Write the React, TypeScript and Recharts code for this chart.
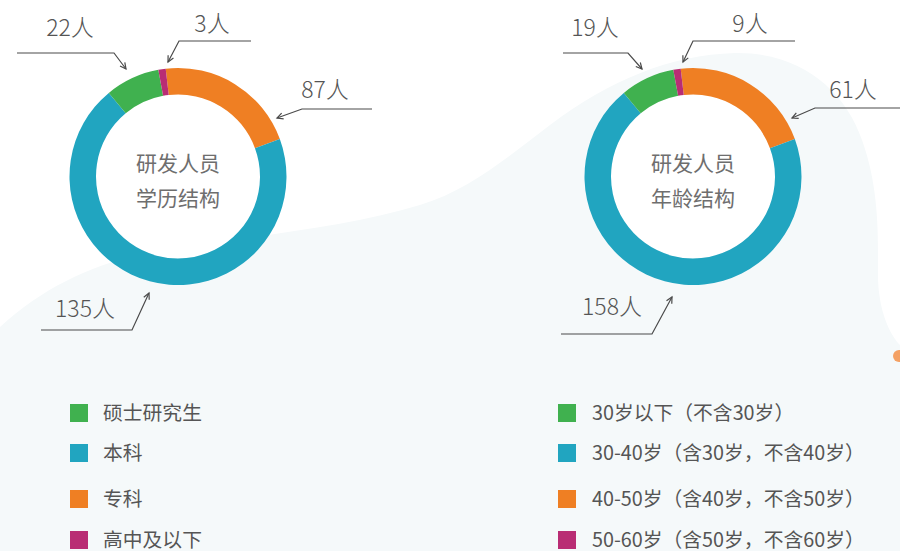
import React from 'react';
import { PieChart, Pie, Cell } from 'recharts';

// ---- data ----
const colors = ['#40b14f', '#21a5c0', '#ef7f23', '#b92d74'];

const eduNames = ['硕士研究生', '本科', '专科', '高中及以下'];
const eduCounts = [22, 135, 87, 3];
// share of the ring each category occupies in the picture (%)
const eduArcShare = [8.1, 69.6, 21.2, 1.1];
const eduTitle = ['研发人员', '学历结构'];

const ageNames = [
  '30岁以下（不含30岁）',
  '30-40岁（含30岁，不含40岁）',
  '40-50岁（含40岁，不含50岁）',
  '50-60岁（含50岁，不含60岁）',
];
const ageCounts = [19, 158, 61, 9];
const ageArcShare = [8.1, 69.6, 21.2, 1.1];
const ageTitle = ['研发人员', '年龄结构'];

// clockwise drawing order starting near the top
const drawOrder = [2, 1, 0, 3];

// ---- layout ----
const W = 900;
const H = 551;
const CY = 176.5;
const LEFT_CX = 178;
const RIGHT_CX = 693;
const INNER = 82;
const OUTER = 108.5;
const START = 96.5;
const FONT = '"Noto Sans CJK SC", "Noto Sans", sans-serif';
const TEXT = '#555555';

type Pt = [number, number];
type LabelLayout = { tip: Pt; elbow: Pt; end: Pt; text: Pt };

// leader-line layout relative to the donut centre, per category
const eduLayout: LabelLayout[] = [
  { tip: [-52, -107.5], elbow: [-64, -123.5], end: [-161, -123.5], text: [-108, -140.5] },
  { tip: [-29, 116.5], elbow: [-46, 153.5], end: [-137, 153.5], text: [-93, 140.5] },
  { tip: [99, -58.5], elbow: [124, -67.5], end: [194, -67.5], text: [147, -78.5] },
  { tip: [-10, -114.5], elbow: [1, -135.5], end: [73, -135.5], text: [34, -144.5] },
];
const ageLayout: LabelLayout[] = [
  { tip: [-51, -107.5], elbow: [-65, -123.5], end: [-130, -123.5], text: [-98, -140.5] },
  { tip: [-21, 120.5], elbow: [-41, 157.5], end: [-132, 157.5], text: [-81, 138.5] },
  { tip: [99, -58.5], elbow: [122, -68.5], end: [207, -68.5], text: [160, -78.5] },
  { tip: [-10, -114.5], elbow: [0, -135.5], end: [102, -135.5], text: [57, -144.5] },
];

function buildData(names: string[], counts: number[], share: number[]) {
  return drawOrder.map((i) => ({
    name: names[i],
    value: share[i],
    count: counts[i],
    cat: i,
  }));
}

const eduData = buildData(eduNames, eduCounts, eduArcShare);
const ageData = buildData(ageNames, ageCounts, ageArcShare);

function makeLabel(layout: LabelLayout[], fallbackCx: number) {
  return (props: any) => {
    const cat = props?.payload?.cat ?? props?.cat;
    const count = props?.payload?.count ?? props?.count;
    const L = layout[cat];
    if (!L) return null;
    const cx = typeof props.cx === 'number' ? props.cx : fallbackCx;
    const cy = typeof props.cy === 'number' ? props.cy : CY;
    const tip: Pt = [cx + L.tip[0], cy + L.tip[1]];
    const elbow: Pt = [cx + L.elbow[0], cy + L.elbow[1]];
    const end: Pt = [cx + L.end[0], cy + L.end[1]];
    const dx = tip[0] - elbow[0];
    const dy = tip[1] - elbow[1];
    const len = Math.sqrt(dx * dx + dy * dy) || 1;
    const ux = dx / len;
    const uy = dy / len;
    const a = 6;
    const w = 3;
    const p1: Pt = [tip[0] - ux * a - uy * w, tip[1] - uy * a + ux * w];
    const p2: Pt = [tip[0] - ux * a + uy * w, tip[1] - uy * a - ux * w];
    return (
      <g key={`lbl-${cat}`}>
        <polyline
          points={`${end[0]},${end[1]} ${elbow[0]},${elbow[1]} ${tip[0]},${tip[1]}`}
          fill="none"
          stroke="#4a4a4a"
          strokeWidth={1.2}
        />
        <polyline
          points={`${p1[0]},${p1[1]} ${tip[0]},${tip[1]} ${p2[0]},${p2[1]}`}
          fill="none"
          stroke="#4a4a4a"
          strokeWidth={1.2}
        />
        <text
          x={cx + L.text[0]}
          y={cy + L.text[1]}
          textAnchor="middle"
          fontSize={23}
          fontFamily={FONT}
          fontWeight={300}
          fill={TEXT}
        >
          {`${count}人`}
        </text>
      </g>
    );
  };
}

function Background() {
  return (
    <svg width={W} height={H} style={{ position: 'absolute', left: 0, top: 0 }}>
      <rect x={0} y={0} width={W} height={H} fill="#ffffff" />
      <path
        d="M0,327 C40,290 90,265 140,255 C220,238 330,232 420,205 C470,190 510,155 550,125 C610,80 670,55 735,53 C800,52 845,90 862,140 C880,190 878,240 878,275 C878,310 890,335 900,345 L900,551 L0,551 Z"
        fill="#f5f9fa"
      />
      <circle cx={899} cy={356} r={6} fill="#f4a164" />
      {[LEFT_CX, RIGHT_CX].map((cx, k) => (
        <g key={k}>
          <circle cx={cx} cy={CY} r={INNER} fill="#ffffff" />
          {(k === 0 ? eduTitle : ageTitle).map((t, j) => (
            <text
              key={j}
              x={cx}
              y={CY - 15 + j * 35}
              textAnchor="middle"
              dominantBaseline="central"
              fontSize={21}
              fontFamily={FONT}
              fill="#6e6e6e"
            >
              {t}
            </text>
          ))}
        </g>
      ))}
    </svg>
  );
}

const rowCenters = [411.5, 452, 498, 538.5];

function LegendBlock({ names, left, textLeft }: { names: string[]; left: number; textLeft: number }) {
  return (
    <>
      {names.map((n, i) => (
        <div
          key={n}
          style={{
            position: 'absolute',
            left,
            top: rowCenters[i] - 10,
            height: 20,
            display: 'flex',
            alignItems: 'center',
            whiteSpace: 'nowrap',
          }}
        >
          <div style={{ width: 18, height: 18, background: colors[i], marginTop: 2 }} />
          <div
            style={{
              marginLeft: textLeft - left - 18,
              fontSize: 19.8,
              fontFamily: FONT,
              color: TEXT,
              lineHeight: '20px',
            }}
          >
            {n}
          </div>
        </div>
      ))}
    </>
  );
}

export default function App() {
  return (
    <div style={{ position: 'absolute', left: 0, top: 0, width: W, height: H, overflow: 'hidden' }}>
      <Background />
      <div style={{ position: 'absolute', left: 0, top: 0 }}>
        <PieChart width={W} height={H} margin={{ top: 0, right: 0, bottom: 0, left: 0 }}>
          <Pie
            data={eduData}
            dataKey="value"
            nameKey="name"
            cx={LEFT_CX}
            cy={CY}
            innerRadius={INNER}
            outerRadius={OUTER}
            startAngle={START}
            endAngle={START - 360}
            stroke="none"
            label={makeLabel(eduLayout, LEFT_CX)}
            labelLine={false}
            isAnimationActive={false}
          >
            {eduData.map((d) => (
              <Cell key={d.cat} fill={colors[d.cat]} />
            ))}
          </Pie>
          <Pie
            data={ageData}
            dataKey="value"
            nameKey="name"
            cx={RIGHT_CX}
            cy={CY}
            innerRadius={INNER}
            outerRadius={OUTER}
            startAngle={START}
            endAngle={START - 360}
            stroke="none"
            label={makeLabel(ageLayout, RIGHT_CX)}
            labelLine={false}
            isAnimationActive={false}
          >
            {ageData.map((d) => (
              <Cell key={d.cat} fill={colors[d.cat]} />
            ))}
          </Pie>
        </PieChart>
      </div>
      <LegendBlock names={eduNames} left={70} textLeft={103} />
      <LegendBlock names={ageNames} left={558} textLeft={592} />
    </div>
  );
}
